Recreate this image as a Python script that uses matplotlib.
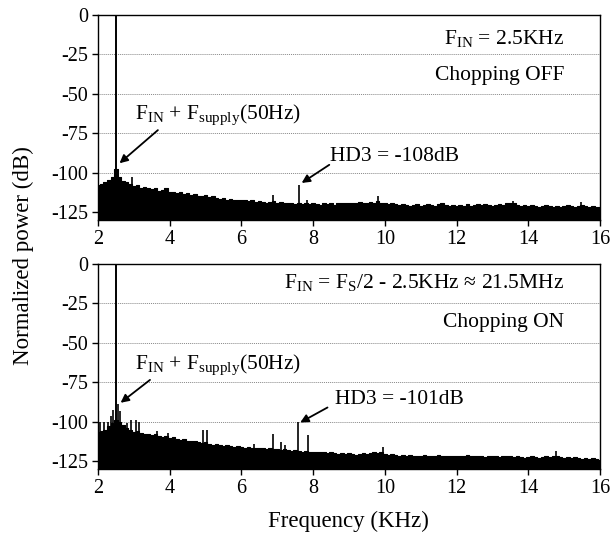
import matplotlib
matplotlib.use("Agg")
import matplotlib.pyplot as plt
import numpy as np

plt.rcParams["font.family"] = ["Liberation Serif", "DejaVu Serif"]
plt.rcParams["mathtext.fontset"] = "custom"
plt.rcParams["mathtext.rm"] = "Liberation Serif"
plt.rcParams["mathtext.it"] = "Liberation Serif:italic"
plt.rcParams["axes.unicode_minus"] = False

# ======================= Data ==============================================
freq_khz = np.round(np.arange(2.0, 16.01, 0.1), 2)

floor_off = [
    -107.5, -107, -106, -104.5, -102.5, -97.5, -103, -105, -106, -107,
    -108.5, -108, -109.5, -109, -110, -110.5, -110, -111.5, -111, -110,
    -112, -112.5, -113, -112, -113.5, -113, -114, -113.5, -114.5, -115,
    -114, -115.5, -115, -116, -116.5, -116, -117, -116.5, -117, -117.5,
    -117, -117.5, -118, -117.5, -118.5, -118, -118.5, -119, -118.5, -118,
    -119, -118.5, -119.5, -119, -119.5, -120, -119.5, -120, -119, -120,
    -119.5, -120, -120.5, -119.5, -120, -119, -120.5, -119.5, -119, -119.5,
    -119, -119.5, -119, -118.5, -119.5, -119, -118.5, -119, -118, -119.5,
    -119.5, -120, -119.5, -120, -120.5, -120, -120.5, -121, -120.5, -120,
    -121, -120.5, -120, -120.5, -121, -120, -119.5, -120.5, -121, -120.5,
    -121, -120.5, -121, -120, -121, -120.5, -120, -120.5, -120, -120.5,
    -121, -120.5, -120, -120.5, -119.5, -119, -119.5, -120.5, -121, -120.5,
    -121, -120.5, -121, -121.5, -121, -120.5, -121, -121.5, -121, -121.5,
    -121, -120.5, -121, -121.5, -121, -120.5, -121, -121.5, -121, -121.5,
    -122,
]

floor_on = [
    -106.5, -106, -105, -103, -101, -99, -100, -102, -104, -105,
    -106.5, -106, -107, -107.5, -108, -108.5, -108, -109, -109.5, -109,
    -110.5, -110, -111, -111.5, -111, -112, -112.5, -112, -113, -113.5,
    -113, -114, -114.5, -114, -115, -115.5, -115, -115.5, -116, -115.5,
    -116, -116.5, -116, -116.5, -117, -116.5, -117, -117.5, -117, -117.5,
    -117.5, -118, -117.5, -118, -118.5, -118, -118.5, -119, -118.5, -119,
    -119, -119.5, -119, -119.5, -120, -119.5, -120, -120.5, -120, -120.5,
    -120, -120.5, -121, -120.5, -120, -120.5, -120, -119.5, -120, -119,
    -120.5, -121, -120.5, -121, -121.5, -121, -121.5, -121, -121.5, -122,
    -121.5, -121, -121.5, -122, -121.5, -121, -121.5, -122, -121.5, -122,
    -121.5, -122, -121.5, -121, -121.5, -122, -121.5, -122, -122.5, -122,
    -121.5, -122, -122.5, -122, -121.5, -122, -122.5, -122, -122.5, -123,
    -122.5, -122, -122.5, -123, -122.5, -122, -122.5, -122, -121.5, -122.5,
    -123, -122.5, -123, -122.5, -123, -123.5, -123, -123.5, -123, -123.5,
    -124,
]

# tones / spurs: (freq kHz, level dB)
spur_f_off = [2.5, 2.95, 6.88, 7.6, 7.84, 9.82, 13.56, 15.47]
spur_db_off = [0, -103, -114, -108, -117, -115, -118, -118.5]

spur_f_on = [2.5, 2.05, 2.18, 2.28, 2.35, 2.42, 2.55, 2.62, 2.8, 2.92, 3.06,
             3.15, 3.64, 3.94, 4.93, 5.05, 6.35, 6.89, 7.11, 7.22, 7.58, 7.85,
             9.94, 14.78]
spur_db_on = [0, -100, -100, -100, -96.5, -92.5, -88.5, -93, -101, -99, -99,
              -100.5, -106, -107, -105.5, -105.5, -114, -107.5, -113, -115,
              -100, -108.5, -116, -118.5]

y_bottom = -130
y_ticks = [0, -25, -50, -75, -100, -125]
x_ticks = [2, 4, 6, 8, 10, 12, 14, 16]

# ======================= Figure ==========================
fig = plt.figure(figsize=(6.11, 5.39), dpi=100)
ax_top = fig.add_axes([0.1604, 0.5918, 0.8216, 0.3804])
ax_bot = fig.add_axes([0.1604, 0.1299, 0.8216, 0.3803])


def draw_spectrum(ax, floor, sf, sdb):
    ax.fill_between(freq_khz, floor, y_bottom, step="mid", color="black",
                    linewidth=0.8, edgecolor="black", zorder=2)
    ax.vlines(sf[0], y_bottom, sdb[0], color="black", linewidth=1.4, zorder=3)
    ax.vlines(sf[1:], y_bottom, sdb[1:], color="black", linewidth=1.2, zorder=3)
    ax.set_xlim(2, 16)
    ax.set_ylim(y_bottom, 0)
    ax.set_xticks(x_ticks)
    ax.set_yticks(y_ticks)
    for g in [-25, -50, -75, -100]:
        ax.axhline(g, color="#888888", linestyle=(0, (1, 1)), linewidth=0.7,
                   zorder=1)
    ax.tick_params(direction="out", length=4, width=1, labelsize=14.5,
                   pad=3)
    for s in ax.spines.values():
        s.set_linewidth(1.0)


draw_spectrum(ax_top, floor_off, spur_f_off, spur_db_off)
draw_spectrum(ax_bot, floor_on, spur_f_on, spur_db_on)

fs_txt = 15.5
arrow = dict(arrowstyle="-|>", color="black", lw=1.3, mutation_scale=12,
             shrinkA=0, shrinkB=0)

# top panel text
ax_top.text(15.0, -14.6, r"F$_\mathrm{IN}$ = 2.5KHz", ha="right",
            va="center", fontsize=fs_txt)
ax_top.text(15.0, -38.5, "Chopping OFF", ha="right", va="center",
            fontsize=fs_txt)
ax_top.text(3.03, -63.5, r"F$_\mathrm{IN}$ + F$_\mathrm{supply}$(50Hz)",
            ha="left", va="center", fontsize=fs_txt)
ax_top.annotate("", xy=(2.6, -94), xytext=(3.67, -73), arrowprops=arrow)
ax_top.text(8.47, -90, "HD3 = -108dB", ha="left", va="center",
            fontsize=fs_txt)
ax_top.annotate("", xy=(7.68, -106.5), xytext=(8.45, -95), arrowprops=arrow)

# bottom panel text
ax_bot.text(15.0, -12, r"F$_\mathrm{IN}$ = F$_\mathrm{S}$/2 - 2.5KHz ≈ 21.5MHz",
            ha="right", va="center", fontsize=fs_txt)
ax_bot.text(15.0, -37, "Chopping ON", ha="right", va="center",
            fontsize=fs_txt)
ax_bot.text(3.03, -64, r"F$_\mathrm{IN}$ + F$_\mathrm{supply}$(50Hz)",
            ha="left", va="center", fontsize=fs_txt)
ax_bot.annotate("", xy=(2.63, -88), xytext=(3.45, -73.5), arrowprops=arrow)
ax_bot.text(8.6, -86, "HD3 = -101dB", ha="left", va="center",
            fontsize=fs_txt)
ax_bot.annotate("", xy=(7.64, -100.5), xytext=(8.4, -91), arrowprops=arrow)

fig.text(0.038, 0.525, "Normalized power (dB)", rotation=90, ha="center",
         va="center", fontsize=16.5)
fig.text(0.571, 0.032, "Frequency (KHz)", ha="center", va="center",
         fontsize=16.5)

fig.savefig("out.png", dpi=100)
